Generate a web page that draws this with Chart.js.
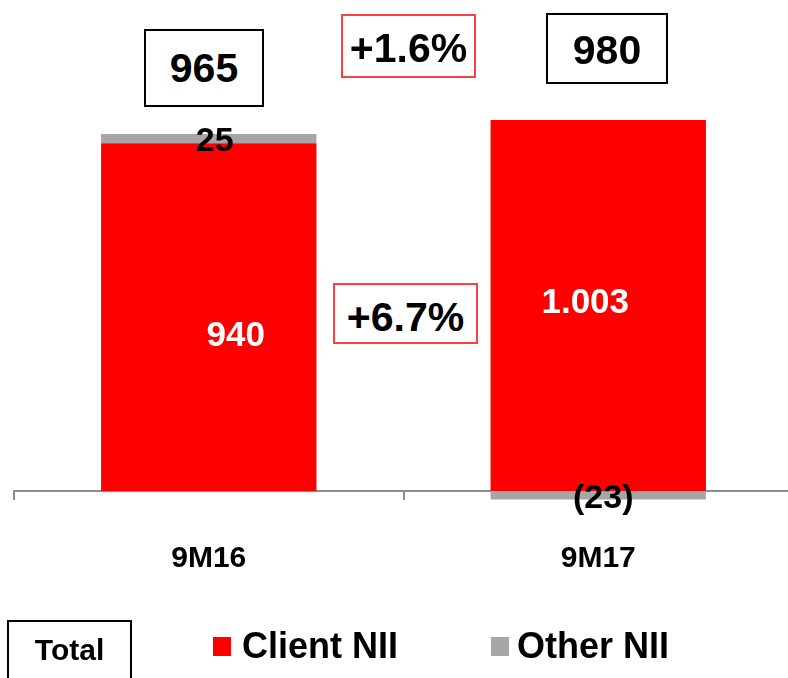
<!DOCTYPE html>
<html><head><meta charset="utf-8">
<script src="https://cdn.jsdelivr.net/npm/chart.js@4.4.1/dist/chart.umd.min.js"></script>
<style>
html,body{margin:0;padding:0;background:#fff;}
#wrap{position:relative;width:788px;height:678px;overflow:hidden;font-family:"Liberation Sans",Arial,sans-serif;font-weight:bold;color:#000;}
canvas{position:absolute;left:0;top:0;}
.box{position:absolute;box-sizing:border-box;background:#fff;}
.txt{position:absolute;white-space:nowrap;line-height:1;}
.sq{position:absolute;}
</style></head>
<body><div id="wrap">
<canvas id="c" width="793" height="678"></canvas>
<div class="box" style="left:144px;top:29px;width:120px;height:78px;border:2px solid #000;"></div>
<div class="txt" id="tot0" style="left:144px;width:120px;text-align:center;top:48px;font-size:41px;"></div>
<div class="box" style="left:546px;top:13px;width:122px;height:71px;border:2px solid #000;"></div>
<div class="txt" id="tot1" style="left:546px;width:122px;text-align:center;top:30px;font-size:41px;"></div>
<div class="box" style="left:341px;top:14px;width:135px;height:64px;border:2px solid #ff4040;"></div>
<div class="txt" id="pctTot" style="left:341px;width:135px;text-align:center;top:28px;font-size:41px;"></div>
<div class="box" style="left:333px;top:283px;width:145px;height:61px;border:2px solid #ff4040;"></div>
<div class="txt" id="pctCli" style="left:333px;width:145px;text-align:center;top:297px;font-size:41px;"></div>
<div class="box" style="left:7px;top:620px;width:125px;height:80px;border:2px solid #000;"></div>
<div class="txt" style="left:7px;width:125px;text-align:center;top:635px;font-size:30px;">Total</div>
<div class="sq" id="sq0" style="left:213px;top:637px;width:18px;height:19px;"></div>
<div class="txt" id="lg0" style="left:242px;top:628px;font-size:36px;"></div>
<div class="sq" id="sq1" style="left:491px;top:637px;width:18px;height:19px;"></div>
<div class="txt" id="lg1" style="left:517px;top:628px;font-size:36px;"></div>
</div>
<script>
// ---- data ----
const categories = ['9M16', '9M17'];
const seriesNames = ['Client NII', 'Other NII'];
const clientNII = [940, 1003];
const otherNII = [25, -23];
const seriesColors = ['#ff0000', '#a6a6a6'];

// ---- derived ----
const totals = categories.map((c, i) => clientNII[i] + otherNII[i]);
function fmt(n) {
  const s = String(Math.abs(n)).replace(/\B(?=(\d{3})+(?!\d))/g, '.');
  return n < 0 ? '(' + s + ')' : s;
}
function pct(a, b) { const p = (a / b - 1) * 100; return (p >= 0 ? '+' : '') + p.toFixed(1) + '%'; }

document.getElementById('tot0').textContent = fmt(totals[0]);
document.getElementById('tot1').textContent = fmt(totals[1]);
document.getElementById('pctTot').textContent = pct(totals[1], totals[0]);
document.getElementById('pctCli').textContent = pct(clientNII[1], clientNII[0]);
document.getElementById('lg0').textContent = seriesNames[0];
document.getElementById('lg1').textContent = seriesNames[1];
document.getElementById('sq0').style.background = seriesColors[0];
document.getElementById('sq1').style.background = seriesColors[1];

const FONT = '"Liberation Sans", Arial, sans-serif';
// label styling per dataset: colour, size, nudges per point [dx, dy]
const labelStyle = [
  { color: '#fff', size: 35, nudge: [[27, 16], [-13, -5]] },
  { color: '#000', size: 34, nudge: [[6, 0], [5, 1]] }
];

const valueLabels = {
  id: 'valueLabels',
  afterDatasetsDraw(chart) {
    const ctx = chart.ctx;
    chart.data.datasets.forEach((ds, di) => {
      const meta = chart.getDatasetMeta(di);
      const st = labelStyle[di];
      meta.data.forEach((bar, i) => {
        const v = ds.data[i];
        const cx = bar.x + st.nudge[i][0];
        const cy = (bar.y + bar.base) / 2 + st.nudge[i][1];
        ctx.save();
        ctx.font = 'bold ' + st.size + 'px ' + FONT;
        ctx.fillStyle = st.color;
        ctx.textAlign = 'center';
        ctx.textBaseline = 'alphabetic';
        ctx.fillText(fmt(v), cx, cy + st.size * 0.358);
        ctx.restore();
      });
    });
  }
};

new Chart(document.getElementById('c'), {
  type: 'bar',
  data: {
    labels: categories,
    datasets: [
      { label: seriesNames[0], data: clientNII, backgroundColor: seriesColors[0], borderWidth: 0, barPercentage: 0.553, categoryPercentage: 1, clip: false },
      { label: seriesNames[1], data: otherNII, backgroundColor: seriesColors[1], borderWidth: 0, barPercentage: 0.553, categoryPercentage: 1, clip: false }
    ]
  },
  options: {
    responsive: false,
    animation: false,
    devicePixelRatio: 1,
    layout: { padding: { left: 14, right: 0, top: 0, bottom: 0 } },
    plugins: { legend: { display: false }, tooltip: { enabled: false } },
    scales: {
      x: {
        stacked: true,
        grid: { offset: true, drawOnChartArea: false, drawTicks: true, tickLength: 9, color: '#8c8c8c', lineWidth: 2 },
        border: { display: true, color: '#8c8c8c', width: 2 },
        ticks: { color: '#000', font: { family: FONT, size: 30, weight: 'bold' }, padding: 41 },
        afterFit: (s) => { s.height = 187; }
      },
      y: { stacked: true, display: false, min: 0, max: 1327 }
    }
  },
  plugins: [valueLabels]
});
</script>
</body></html>
